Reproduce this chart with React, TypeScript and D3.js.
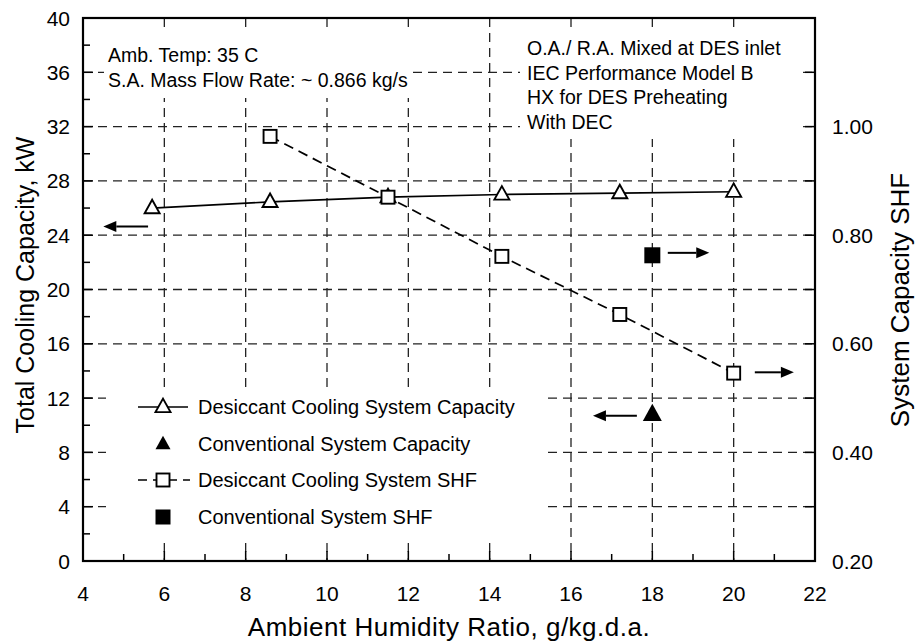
import React from "react";
import * as d3 from "d3";

// ---- data ----
const desCapX = [5.7, 8.6, 11.5, 14.3, 17.2, 20.0];
const desCapY = [26.0, 26.45, 26.8, 27.0, 27.1, 27.2];
const desShfX = [8.6, 11.5, 14.3, 17.2, 20.0];
const desShfY = [0.982, 0.87, 0.761, 0.654, 0.546];
const convCapX = [18];
const convCapY = [10.8];
const convShfX = [18];
const convShfY = [0.763];

const xTicks = [4, 6, 8, 10, 12, 14, 16, 18, 20, 22];
const yLeftTicks = [0, 4, 8, 12, 16, 20, 24, 28, 32, 36, 40];
const yRightTicks = [0.2, 0.4, 0.6, 0.8, 1.0];

// arrows in data units (left axis), from -> to
const arrowFrom = [[5.6, 24.65], [18.38, 22.7], [20.52, 13.9], [17.62, 10.7]];
const arrowTo = [[4.5, 24.65], [19.4, 22.7], [21.48, 13.9], [16.54, 10.7]];

const noteLeft = ["Amb. Temp: 35 C", "S.A. Mass Flow Rate: ~ 0.866 kg/s"];
const noteRight = [
  "O.A./ R.A. Mixed at DES inlet",
  "IEC Performance Model B",
  "HX for DES Preheating",
  "With DEC",
];
const legendLabels = [
  "Desiccant Cooling System Capacity",
  "Conventional System Capacity",
  "Desiccant Cooling System SHF",
  "Conventional System SHF",
];

const W = 915;
const H = 643;
const L = 83, R = 815, T = 18, B = 561;
const FONT = "'Liberation Sans', Arial, Helvetica, sans-serif";

export default function App() {
  const x = d3.scaleLinear().domain([4, 22]).range([L, R]);
  const yL = d3.scaleLinear().domain([0, 40]).range([B, T]);
  const yR = d3.scaleLinear().domain([0.2, 1.2]).range([B, T]);

  const capLine = d3.line<number>().x((_, i) => x(desCapX[i])).y((d) => yL(d));
  const shfLine = d3.line<number>().x((_, i) => x(desShfX[i])).y((d) => yR(d));

  const tri = (cx: number, cy: number, s: number) => {
    const h = s * 0.9;
    return `M${cx},${cy - h * 0.62}L${cx + s / 2},${cy + h * 0.38}L${cx - s / 2},${cy + h * 0.38}Z`;
  };

  const gridH = d3.range(4, 40, 4);
  const gridV = d3.range(6, 22, 2);
  const minorY = d3.range(2, 40, 4);
  const minorX = d3.range(5, 22, 2);
  const rightTickVals = d3.range(0.3, 1.15, 0.1);

  const legendRows = [407, 444, 480, 517];
  const legSymX = 163;

  const arrow = (i: number) => {
    const [x1d, y1d] = arrowFrom[i];
    const [x2d, y2d] = arrowTo[i];
    const x1 = x(x1d), y1 = yL(y1d), x2 = x(x2d), y2 = yL(y2d);
    const dir = Math.sign(x2 - x1);
    const hl = 13, hw = 5.5;
    const bx = x2 - dir * hl;
    return (
      <g key={"ar" + i}>
        <line x1={x1} y1={y1} x2={bx} y2={y2} stroke="#000" strokeWidth={2} />
        <path d={`M${x2},${y2}L${bx},${y2 - hw}L${bx},${y2 + hw}Z`} fill="#000" />
      </g>
    );
  };

  return (
    <svg
      width={W}
      height={H}
      style={{ position: "absolute", left: 0, top: 0, background: "#fff" }}
      fontFamily={FONT}
    >
      <rect width={W} height={H} fill="#fff" />
      {/* grid */}
      <g stroke="#222" strokeWidth={1.3} strokeDasharray="9,6">
        {gridH.map((v) => (
          <line key={"gh" + v} x1={L} x2={R} y1={yL(v)} y2={yL(v)} />
        ))}
        {gridV.map((v) => (
          <line key={"gv" + v} x1={x(v)} x2={x(v)} y1={T} y2={B} />
        ))}
      </g>
      {/* white boxes for annotations and legend */}
      <rect x={104} y={32} width={306} height={66} fill="#fff" />
      <rect x={520} y={33} width={277} height={106} fill="#fff" />
      <rect x={106} y={388} width={442} height={150} fill="#fff" />

      {/* ticks */}
      <g stroke="#000" strokeWidth={1.5}>
        {minorY.map((v) => (
          <line key={"my" + v} x1={L} x2={L + 7} y1={yL(v)} y2={yL(v)} />
        ))}
        {gridH.map((v) => (
          <line key={"My" + v} x1={L} x2={L + 10} y1={yL(v)} y2={yL(v)} />
        ))}
        {rightTickVals.map((v) => (
          <line key={"ry" + v} x1={R - 10} x2={R} y1={yR(v)} y2={yR(v)} />
        ))}
        {minorX.map((v) => (
          <line key={"mx" + v} x1={x(v)} x2={x(v)} y1={B} y2={B - 7} />
        ))}
        {gridV.map((v) => (
          <line key={"Mx" + v} x1={x(v)} x2={x(v)} y1={B} y2={B - 10} />
        ))}
      </g>

      {/* frame */}
      <rect x={L} y={T} width={R - L} height={B - T} fill="none" stroke="#000" strokeWidth={2.2} />

      {/* series lines */}
      <path d={capLine(desCapY) || ""} fill="none" stroke="#000" strokeWidth={1.7} />
      <path d={shfLine(desShfY) || ""} fill="none" stroke="#000" strokeWidth={1.7} strokeDasharray="10,6" />

      {/* markers */}
      {desCapY.map((v, i) => (
        <path key={"t" + i} d={tri(x(desCapX[i]), yL(v), 15)} fill="#fff" stroke="#000" strokeWidth={1.9} />
      ))}
      {desShfY.map((v, i) => (
        <rect key={"s" + i} x={x(desShfX[i]) - 6.5} y={yR(v) - 6.5} width={13} height={13} fill="#fff" stroke="#000" strokeWidth={1.9} />
      ))}
      {convCapY.map((v, i) => (
        <path key={"ct" + i} d={tri(x(convCapX[i]), yL(v), 19)} fill="#000" />
      ))}
      {convShfY.map((v, i) => (
        <rect key={"cs" + i} x={x(convShfX[i]) - 8} y={yR(v) - 8} width={16} height={16} fill="#000" />
      ))}

      {/* arrows */}
      {arrowFrom.map((_, i) => arrow(i))}

      {/* annotations */}
      <g fontSize={19.5} fill="#000">
        {noteLeft.map((t, i) => (
          <text key={"nl" + i} x={108} y={62 + i * 25}>{t}</text>
        ))}
        {noteRight.map((t, i) => (
          <text key={"nr" + i} x={527} y={55 + i * 24.7}>{t}</text>
        ))}
      </g>

      {/* legend */}
      <g fontSize={20}>
        <line x1={138} x2={188} y1={legendRows[0]} y2={legendRows[0]} stroke="#000" strokeWidth={1.7} />
        <path d={tri(legSymX, legendRows[0], 15)} fill="#fff" stroke="#000" strokeWidth={1.9} />
        <path d={tri(legSymX, legendRows[1], 15)} fill="#000" />
        <line x1={138} x2={190} y1={legendRows[2]} y2={legendRows[2]} stroke="#000" strokeWidth={1.7} strokeDasharray="9,6" />
        <rect x={legSymX - 6.5} y={legendRows[2] - 6.5} width={13} height={13} fill="#fff" stroke="#000" strokeWidth={1.9} />
        <rect x={legSymX - 7.5} y={legendRows[3] - 7.5} width={15} height={15} fill="#000" />
        {legendLabels.map((t, i) => (
          <text key={"lg" + i} x={198} y={legendRows[i] + 7}>{t}</text>
        ))}
      </g>

      {/* tick labels */}
      <g fontSize={21} fill="#000">
        {yLeftTicks.map((v) => (
          <text key={"yl" + v} x={70} y={yL(v) + 7.5} textAnchor="end">{v}</text>
        ))}
        {yRightTicks.map((v) => (
          <text key={"yr" + v} x={832} y={yR(v) + 7.5}>{v.toFixed(2)}</text>
        ))}
        {xTicks.map((v) => (
          <text key={"xt" + v} x={x(v)} y={601} textAnchor="middle">{v}</text>
        ))}
      </g>

      {/* axis titles */}
      <g fontSize={25} fill="#000">
        <text x={(L + R) / 2} y={636} textAnchor="middle" fontSize={26} letterSpacing={0.5}>
          Ambient Humidity Ratio, g/kg.d.a.
        </text>
        <text transform={`translate(34,285) rotate(-90)`} textAnchor="middle">
          Total Cooling Capacity, kW
        </text>
        <text transform={`translate(909,300) rotate(-90)`} textAnchor="middle" fontSize={26}>
          System Capacity SHF
        </text>
      </g>
    </svg>
  );
}
